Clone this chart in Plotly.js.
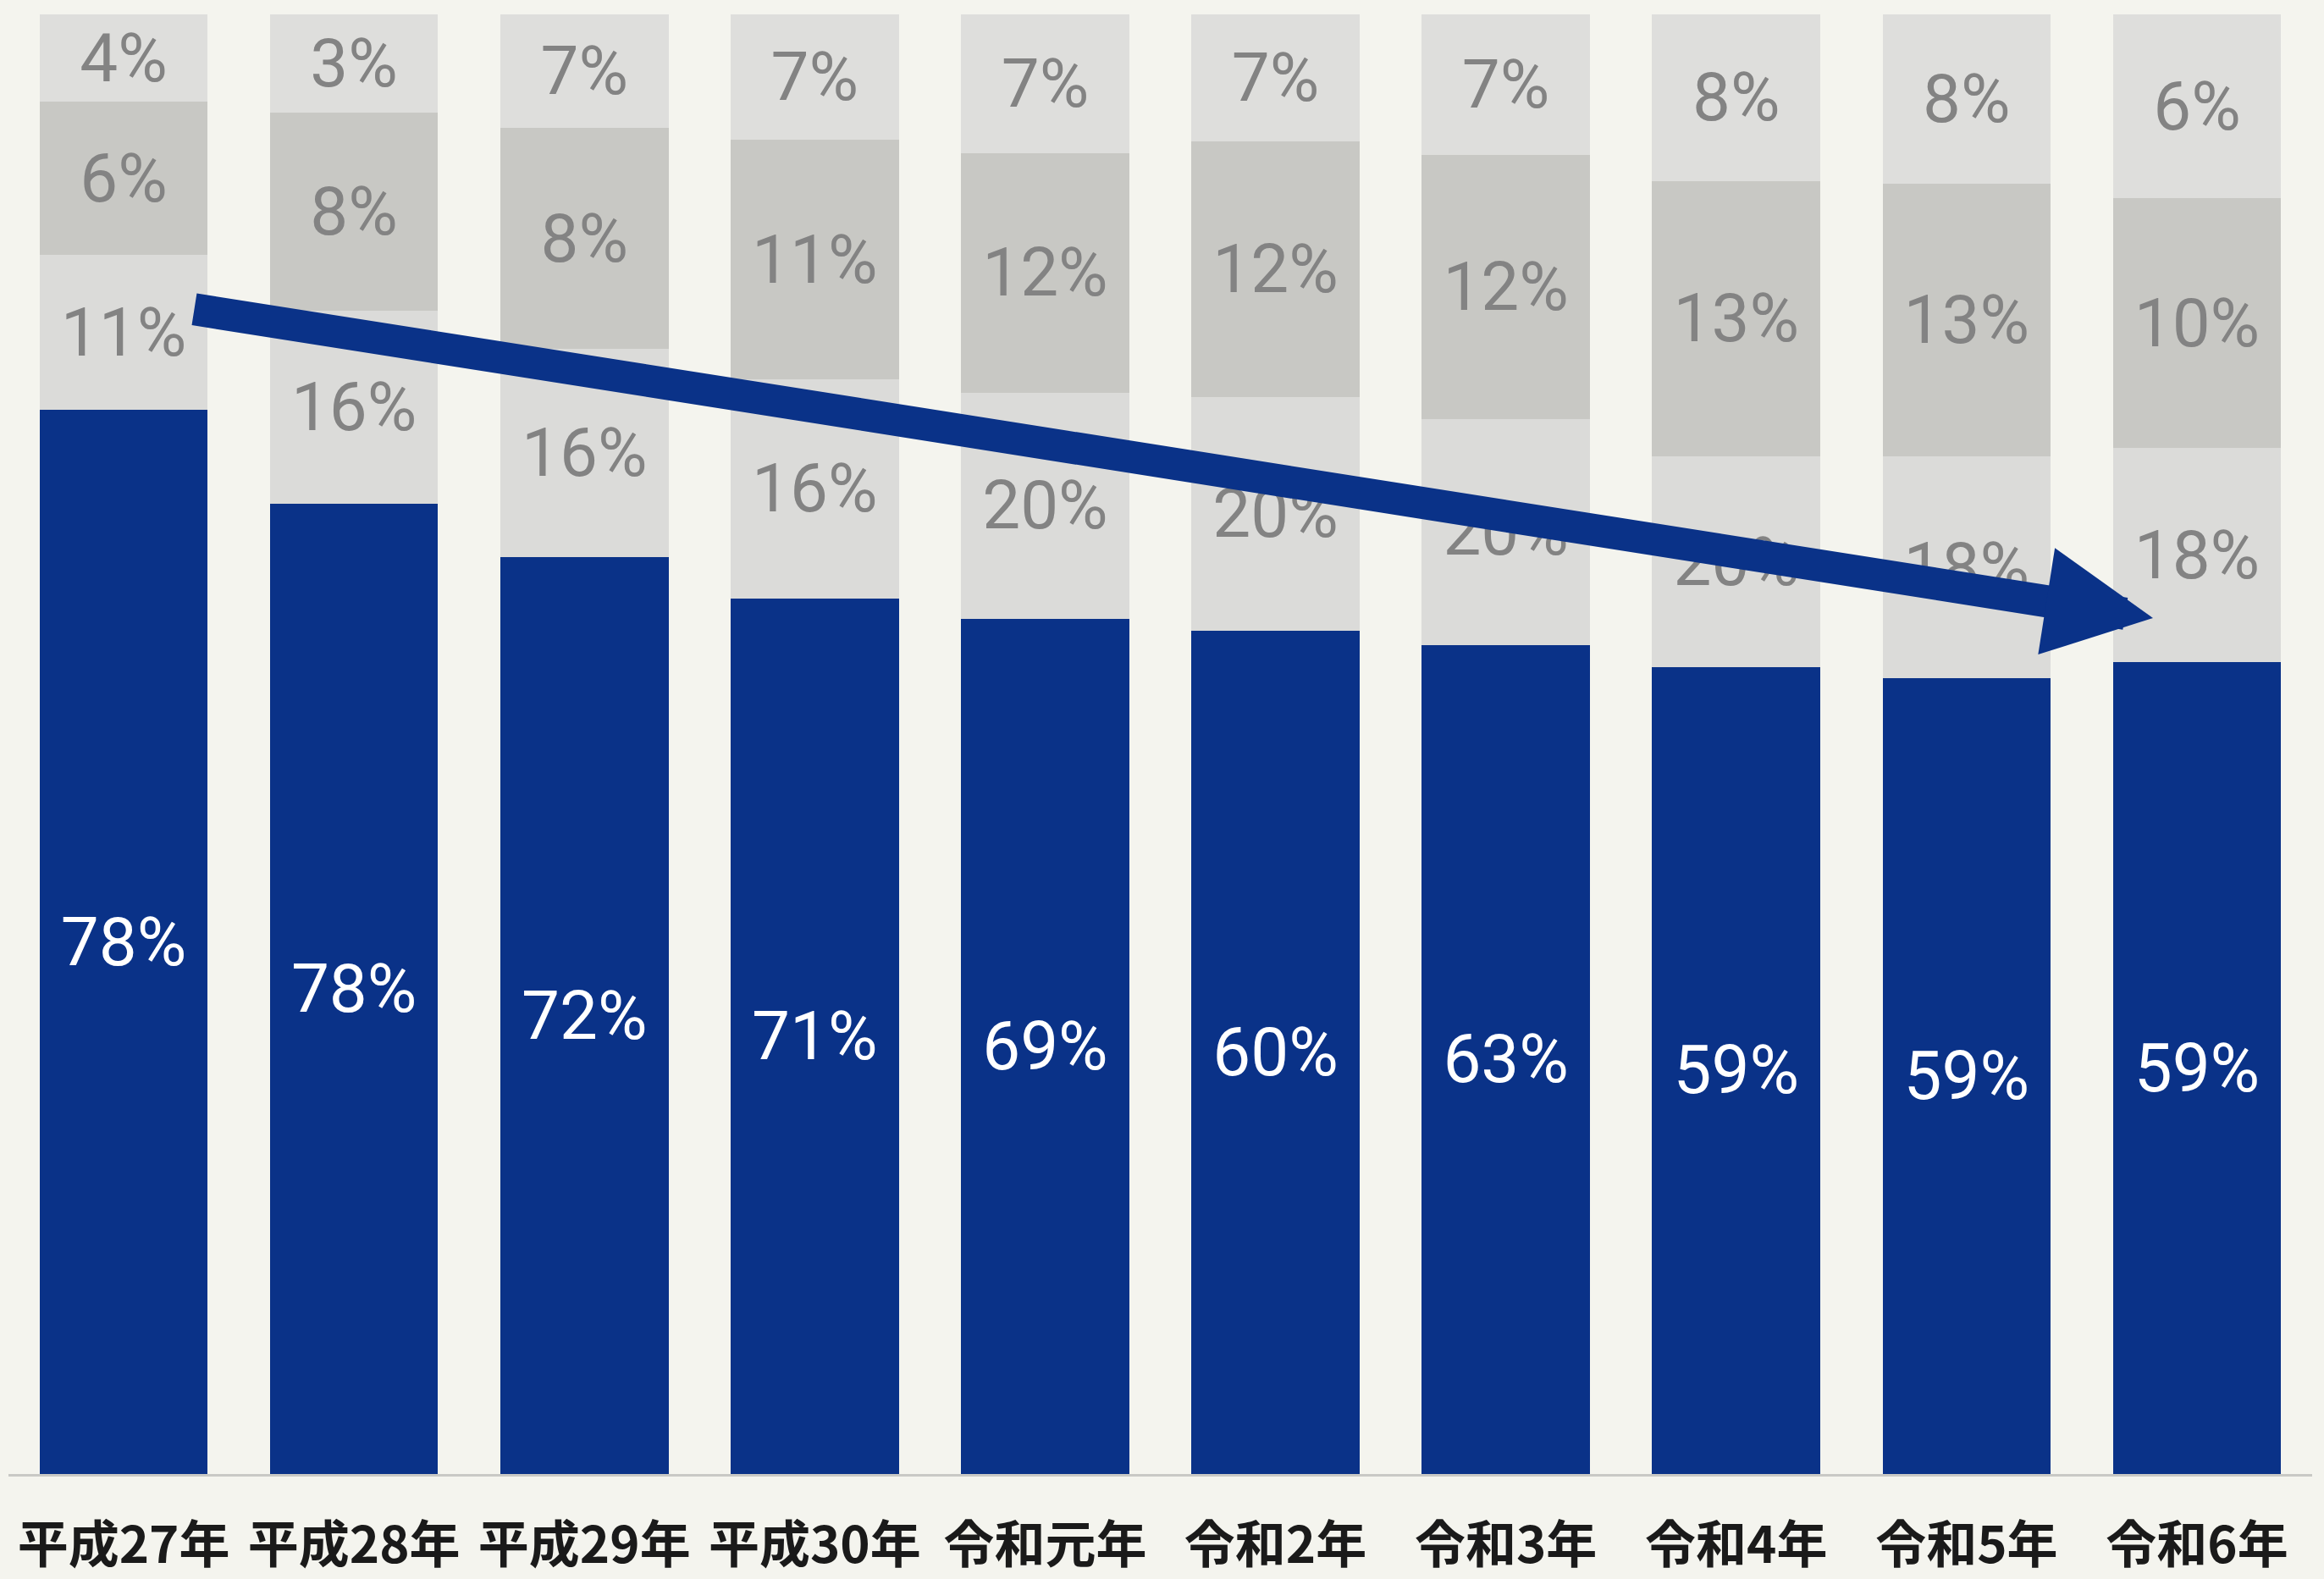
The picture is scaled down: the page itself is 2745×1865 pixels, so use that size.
<!DOCTYPE html>
<html>
<head>
<meta charset="utf-8">
<script src="https://cdn.plot.ly/plotly-3.0.1.min.js"></script>
<style>
  html, body { margin: 0; padding: 0; background: #f4f4ee; }
  #chart { width: 2745px; height: 1865px; }
</style>
</head>
<body>
<div id="chart"></div>
<script>
// Categories (x axis)
const categories = ['平成27年', '平成28年', '平成29年', '平成30年', '令和元年', '令和2年', '令和3年', '令和4年', '令和5年', '令和6年'];

// Segment heights as drawn in the picture (share of bar height, %)
const seg1Heights = [72.9, 66.5, 62.8, 60.0, 58.6, 57.8, 56.8, 55.3, 54.5, 55.6];
const seg2Heights = [10.6, 13.2, 14.3, 15.0, 15.5, 16.0, 15.5, 14.4, 15.2, 14.7];
const seg3Heights = [10.5, 13.6, 15.1, 16.4, 16.4, 17.5, 18.1, 18.9, 18.7, 17.1];
const seg4Heights = [6.0, 6.7, 7.8, 8.6, 9.5, 8.7, 9.6, 11.4, 11.6, 12.6];

// Printed labels
const seg1Labels = ['78%', '78%', '72%', '71%', '69%', '60%', '63%', '59%', '59%', '59%'];
const seg2Labels = ['11%', '16%', '16%', '16%', '20%', '20%', '20%', '20%', '18%', '18%'];
const seg3Labels = ['6%', '8%', '8%', '11%', '12%', '12%', '12%', '13%', '13%', '10%'];
const seg4Labels = ['4%', '3%', '7%', '7%', '7%', '7%', '7%', '8%', '8%', '6%'];

const labelFont = 'Roboto, "Liberation Sans", Arial, sans-serif';

function seg(values, labels, color, textColor) {
  return {
    type: 'bar',
    x: categories,
    y: values,
    text: labels,
    texttemplate: '%{text}',
    textposition: 'inside',
    insidetextanchor: 'middle',
    constraintext: 'none',
    textangle: 0,
    textfont: { family: labelFont, size: 80, color: textColor },
    marker: { color: color, line: { width: 0 } },
    hoverinfo: 'skip',
    showlegend: false
  };
}

const data = [
  seg(seg1Heights, seg1Labels, '#0a3288', '#ffffff'),
  seg(seg2Heights, seg2Labels, '#dbdbd9', '#838383'),
  seg(seg3Heights, seg3Labels, '#c8c8c4', '#838383'),
  seg(seg4Heights, seg4Labels, '#dededc', '#838383')
];

const layout = {
  width: 2745,
  height: 1865,
  barmode: 'stack',
  bargap: 0.27,
  paper_bgcolor: '#f4f4ee',
  plot_bgcolor: '#f4f4ee',
  margin: { l: 10, r: 14, t: 17, b: 124 },
  xaxis: {
    type: 'category',
    showgrid: false,
    zeroline: false,
    showline: true,
    linecolor: '#c9c9c5',
    linewidth: 3,
    ticks: 'outside',
    ticklen: 30,
    tickcolor: 'rgba(0,0,0,0)',
    tickfont: { family: '"Noto Sans CJK JP", "Noto Sans", sans-serif', size: 60, color: '#1a1a1a', weight: 700 }
  },
  yaxis: {
    range: [0, 100],
    showgrid: false,
    zeroline: false,
    showline: false,
    showticklabels: false,
    ticks: ''
  },
  annotations: [{
    xref: 'paper', yref: 'paper',
    x: 0.9309, y: 0.5864,
    axref: 'pixel', ayref: 'pixel',
    ax: -2315, ay: -365,
    text: '',
    showarrow: true,
    arrowhead: 2,
    arrowsize: 0.67,
    arrowwidth: 38,
    arrowcolor: '#0a3288'
  }]
};

Plotly.newPlot('chart', data, layout, { displayModeBar: false, staticPlot: true });
</script>
</body>
</html>
